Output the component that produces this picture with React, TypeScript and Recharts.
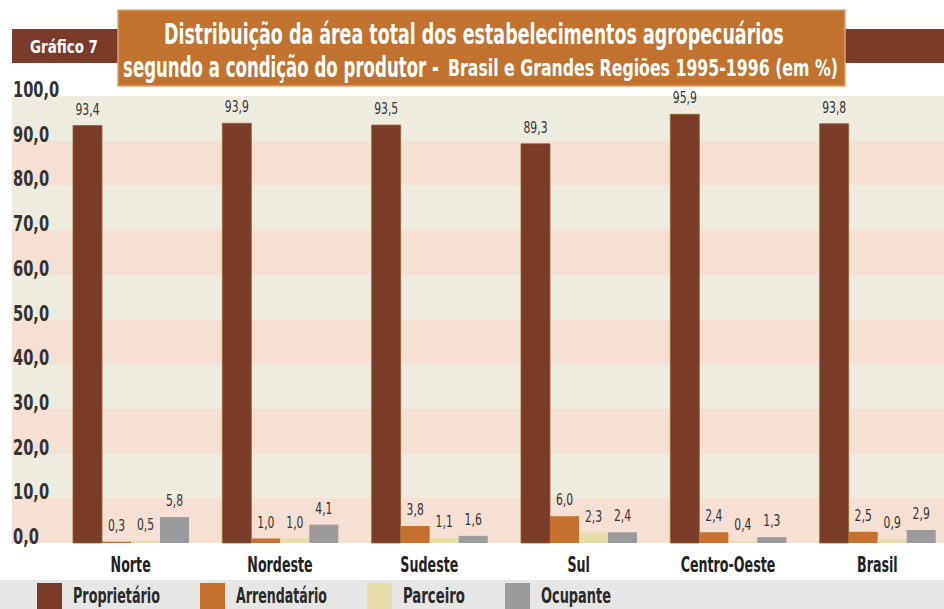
import { useLayoutEffect, useRef, useState } from "react";
import { Bar, BarChart, CartesianGrid, LabelList, XAxis, YAxis } from "recharts";

const categories = ["Norte", "Nordeste", "Sudeste", "Sul", "Centro-Oeste", "Brasil"];
const proprietario = [93.4, 93.9, 93.5, 89.3, 95.9, 93.8];
const arrendatario = [0.3, 1.0, 3.8, 6.0, 2.4, 2.5];
const parceiro = [0.5, 1.0, 1.1, 2.3, 0.4, 0.9];
const ocupante = [5.8, 4.1, 1.6, 2.4, 1.3, 2.9];
const yTicks = [0, 10, 20, 30, 40, 50, 60, 70, 80, 90, 100];

const series = [
  { key: "proprietario", name: "Proprietário", color: "#7A3B29" },
  { key: "arrendatario", name: "Arrendatário", color: "#C5712D" },
  { key: "parceiro", name: "Parceiro", color: "#E6DDA8" },
  { key: "ocupante", name: "Ocupante", color: "#9B9B9D" },
];

const chartData = categories.map((name, i) => ({
  name,
  proprietario: proprietario[i],
  arrendatario: arrendatario[i],
  parceiro: parceiro[i],
  ocupante: ocupante[i],
}));

const NARROW = "'DejaVu Sans Condensed', 'DejaVu Sans', sans-serif";

const fmt = (v: any) => Number(v).toFixed(1).replace(".", ",");

// svg text squeezed horizontally to a given width (the source uses a condensed black face)
const FitText = ({ x, y, width, size, fill, weight = "bold", children }: any) => {
  const ref = useRef<SVGTextElement>(null);
  const [sx, setSx] = useState(1);
  useLayoutEffect(() => {
    const n = ref.current ? ref.current.getComputedTextLength() : 0;
    if (n > 0) setSx(width / n);
  }, [width, children]);
  return (
    <text
      ref={ref}
      transform={`translate(${x},${y}) scale(${sx},1)`}
      fill={fill}
      fontSize={size}
      fontWeight={weight}
      fontFamily={NARROW}
    >
      {children}
    </text>
  );
};

const YTick = (props: any) => (
  <text
    transform={`translate(13,${props.y + 1}) scale(0.74,1)`}
    fill="#333"
    fontSize={22}
    fontWeight="bold"
    fontFamily={NARROW}
  >
    {fmt(props.payload.value)}
  </text>
);

const XTick = (props: any) => (
  <text
    transform={`translate(${props.x},${props.y + 21}) scale(0.64,1)`}
    fill="#222"
    fontSize={22}
    fontWeight="bold"
    fontFamily={NARROW}
    textAnchor="middle"
  >
    {props.payload.value}
  </text>
);

const ValueLabel = (props: any) => (
  <text
    transform={`translate(${props.x + props.width / 2},${props.y - 11}) scale(0.8,1)`}
    fill="#333"
    fontSize={15}
    fontFamily={NARROW}
    textAnchor="middle"
  >
    {fmt(props.value)}
  </text>
);

const Header = () => (
  <svg width={944} height={95} style={{ position: "absolute", left: 0, top: 0 }}>
    <rect x={12} y={29} width={932} height={34} fill="#7B3A2A" />
    <FitText x={30} y={53} width={68} size={18} fill="#fff">
      Gráfico 7
    </FitText>
    <rect x={118} y={10} width={727} height={76} fill="#C1722F" stroke="#E2A56A" strokeWidth={1.5} />
    <FitText x={164} y={44} width={620} size={28} fill="#fff">
      Distribuição da área total dos estabelecimentos agropecuários
    </FitText>
    <FitText x={123} y={77} width={316} size={28} fill="#fff">
      segundo a condição do produtor -
    </FitText>
    <FitText x={448} y={76} width={390} size={23} fill="#fff">
      Brasil e Grandes Regiões 1995-1996 (em %)
    </FitText>
  </svg>
);

const legendX = [37, 200, 367, 505];
const legendW = [87, 91, 62, 70];

const LegendRow = () => (
  <svg width={944} height={29} style={{ position: "absolute", left: 0, top: 580 }}>
    <rect x={0} y={0} width={944} height={29} fill="#E6E6E4" />
    {series.map((s, i) => (
      <g key={s.key}>
        <rect x={legendX[i]} y={3} width={25} height={26} fill={s.color} />
        <FitText x={legendX[i] + 36} y={23} width={legendW[i]} size={22} fill="#2a2a2a">
          {s.name}
        </FitText>
      </g>
    ))}
  </svg>
);

export default function App() {
  return (
    <div style={{ position: "absolute", left: 0, top: 0, width: 944, height: 609, overflow: "hidden", background: "#fff" }}>
      <div style={{ position: "absolute", left: 0, top: 0 }}>
        <BarChart
          width={952}
          height={609}
          data={chartData}
          margin={{ top: 96, right: 0, left: 11, bottom: 0 }}
          barGap={0}
          barSize={29}
        >
          <CartesianGrid
            vertical={false}
            stroke="none"
            horizontalFill={["#EEEBDF", "#F6DFD3"]}
            horizontalValues={yTicks}
          />
          <XAxis
            dataKey="name"
            axisLine={false}
            tickLine={false}
            height={66}
            padding={{ left: 44, right: 0 }}
            tick={<XTick />}
            interval={0}
          />
          <YAxis
            domain={[0, 100]}
            ticks={yTicks}
            width={1}
            axisLine={false}
            tickLine={false}
            tick={<YTick />}
            interval={0}
          />
          {series.map((s) => (
            <Bar
              key={s.key}
              dataKey={s.key}
              name={s.name}
              fill={s.color}
              stroke={s.key === "proprietario" ? "#8C6A2C" : "none"}
              strokeWidth={0.8}
              isAnimationActive={false}
            >
              <LabelList dataKey={s.key} content={<ValueLabel />} />
            </Bar>
          ))}
        </BarChart>
      </div>
      <Header />
      <LegendRow />
    </div>
  );
}
